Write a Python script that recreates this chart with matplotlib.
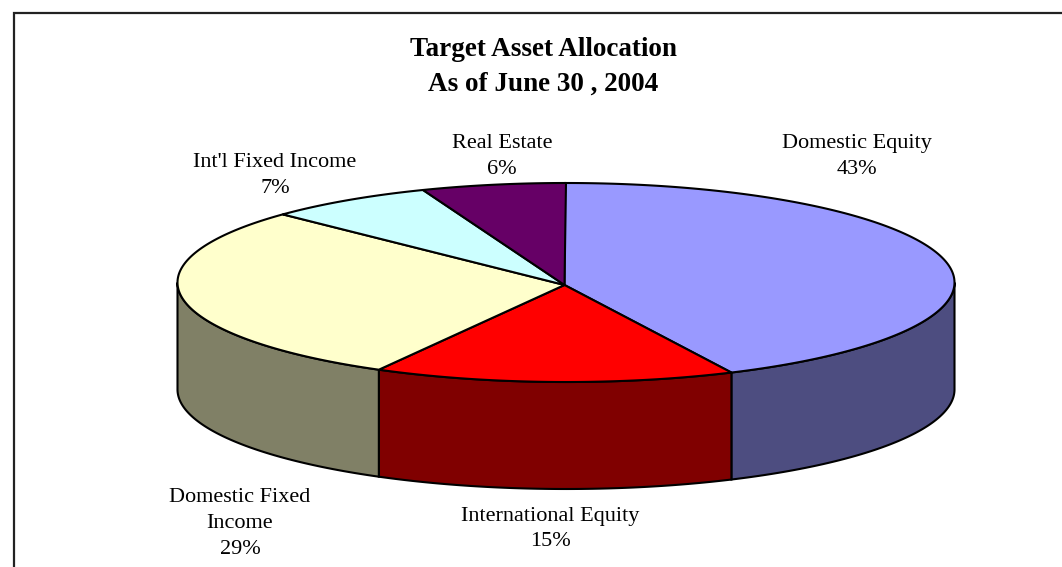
import numpy as np
import matplotlib
matplotlib.use("Agg")
import matplotlib.pyplot as plt
from matplotlib.patches import Polygon

title_lines = ["Target Asset Allocation", "As of June 30 , 2004"]
categories = ["Domestic Equity", "International Equity", "Domestic Fixed\nIncome", "Int'l Fixed Income", "Real Estate"]
values = [43, 15, 29, 7, 6]
top_colors = ["#9999FF", "#FF0000", "#FFFFCC", "#CCFFFF", "#660066"]
side_colors = ["#4D4D80", "#800000", "#808066", "#668080", "#330033"]
label_px = [(857, 156.5), (550, 529), (240, 523.5), (275, 175.5), (502, 156.5)]

W, H = 1062, 567
cx, cy, rx, ry = 566, 282.5, 388.5, 99.5
apex = (-1.5 / rx, -2.5 / ry)
depth = 107 / ry

plt.rcParams["font.family"] = ["Liberation Serif", "DejaVu Serif"]
fig = plt.figure(figsize=(W / 100, H / 100), dpi=100, facecolor="white")
ax = fig.add_axes([0, 0, 1, 1])
ax.set_xlim((0 - cx) / rx, (W - cx) / rx)
ax.set_ylim((cy - H) / ry, cy / ry)
ax.axis("off")

edges = np.cumsum([0] + values) / sum(values) * 360.0

# Front faces of the drum
for a, b, col in zip(edges[:-1], edges[1:], side_colors):
    lo, hi = max(a, 90.0), min(b, 270.0)
    if lo >= hi:
        continue
    t = np.radians(np.linspace(lo, hi, 100))
    xs, ys = np.sin(t), np.cos(t)
    pts = np.r_[np.c_[xs, ys], np.c_[xs[::-1], ys[::-1] - depth]]
    ax.add_patch(Polygon(pts, closed=True, facecolor=col, edgecolor="black",
                         linewidth=1.5, zorder=1))

# Top face: a slice per value, lines meeting at the slightly off-centre apex
for a, b, col in zip(edges[:-1], edges[1:], top_colors):
    t = np.radians(np.linspace(a, b, 200))
    pts = np.r_[[apex], np.c_[np.sin(t) - 1.5 / rx * (a == 0) * (t == t[0]), np.cos(t)]]
    ax.add_patch(Polygon(pts, closed=True, facecolor=col, edgecolor="black",
                         linewidth=1.5, zorder=2, joinstyle="round"))

# Chart frame (bottom and right are cropped off)
ax_frame = fig.add_axes([0, 0, 1, 1], facecolor="none")
ax_frame.set_xlim(0, W); ax_frame.set_ylim(H, 0); ax_frame.axis("off")
ax_frame.plot([13.5, 13.5, W], [H, 12.5, 12.5], color="#222222", lw=1.6, solid_joinstyle="miter")

for line, y in zip(title_lines, [50, 84]):
    ax_frame.text(543, y, line, ha="center", va="center", fontsize=19.5, fontweight="bold", color="black")

for name, val, (x, y) in zip(categories, values, label_px):
    ax_frame.text(x, y, f"{name}\n{val}%", ha="center", va="center", fontsize=16,
                  linespacing=1.5, color="black")

fig.savefig("out.png", dpi=100, facecolor="white")
